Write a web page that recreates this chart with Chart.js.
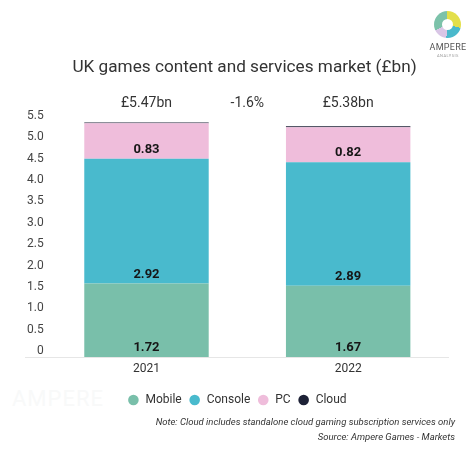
<!DOCTYPE html>
<html>
<head>
<meta charset="utf-8">
<script src="https://cdn.jsdelivr.net/npm/chart.js@4/dist/chart.umd.min.js"></script>
<style>
  html, body { margin:0; padding:0; background:#fff; }
  #wrap { position:relative; width:474px; height:459px; overflow:hidden; font-family: Roboto, "Noto Sans", sans-serif; }
  #c { position:absolute; left:0; top:0; }
  #logo { position:absolute; left:434px; top:11px; width:27px; height:27px; border-radius:50%;
    background: conic-gradient(#e3df4a 0deg 105deg, #4ab9cc 105deg 185deg, #d9c6e6 185deg 245deg, #7cc2aa 245deg 360deg); }
  #logo:after { content:""; position:absolute; left:8px; top:8px; width:11px; height:11px; border-radius:50%; background:#fff; }
  #logoText { position:absolute; left:424px; top:42px; width:48px; text-align:center; font-size:9px; color:#555; letter-spacing:0.3px; }
  #logoSub { position:absolute; left:424px; top:53px; width:48px; text-align:center; font-size:4px; color:#999; letter-spacing:0.5px; }
  #wm { position:absolute; left:12px; top:386px; font-size:22px; color:#f8f9f9; letter-spacing:1px; }
</style>
</head>
<body>
<div id="wrap">
  <div id="wm">AMPERE</div>
  <canvas id="c" width="474" height="459"></canvas>
  <div id="logo"></div>
  <div id="logoText">AMPERE</div>
  <div id="logoSub">ANALYSIS</div>
</div>
<script>
const categories = ['2021', '2022'];
const seriesNames = ['Mobile', 'Console', 'PC', 'Cloud'];
const mobile = [1.72, 1.67];
const consoleVals = [2.92, 2.89];
const pc = [0.83, 0.82];
const cloud = [0.02, 0.02];
const totalLabels = ['£5.47bn', '£5.38bn'];
const changeLabel = '-1.6%';
const yTickValues = [0, 0.5, 1.0, 1.5, 2.0, 2.5, 3.0, 3.5, 4.0, 4.5, 5.0, 5.5];
const titleText = 'UK games content and services market (£bn)';
const noteLines = ['Note: Cloud includes standalone cloud gaming subscription services only',
                   'Source: Ampere Games - Markets'];

const colors = ['#79bfaa', '#49bacd', '#efbddb', '#1d2136'];
const FONT = 'Roboto, "Noto Sans", sans-serif';

const overlay = {
  id: 'overlay',
  afterDraw(chart) {
    const ctx = chart.ctx;
    const area = chart.chartArea;
    const xs = chart.scales.x;
    ctx.save();
    // title
    ctx.fillStyle = '#333';
    ctx.font = '17.2px ' + FONT;
    ctx.textAlign = 'center';
    ctx.textBaseline = 'middle';
    ctx.fillText(titleText, 244.5, 68);
    // totals
    ctx.font = '14px ' + FONT;
    categories.forEach((c, i) => {
      ctx.fillText(totalLabels[i], xs.getPixelForValue(i), area.top - 19);
    });
    ctx.fillText(changeLabel, (xs.getPixelForValue(0) + xs.getPixelForValue(1)) / 2, area.top - 19);
    // value labels
    ctx.font = 'bold 13px ' + FONT;
    ctx.fillStyle = '#161616';
    for (let d = 0; d < 3; d++) {
      const meta = chart.getDatasetMeta(d);
      meta.data.forEach((bar, i) => {
        const v = chart.data.datasets[d].data[i];
        ctx.fillText(v.toFixed(2), bar.x, bar.base - 9);
      });
    }
    // x axis line
    ctx.strokeStyle = '#e6e6e6';
    ctx.lineWidth = 1;
    ctx.beginPath();
    ctx.moveTo(25, area.bottom + 0.5);
    ctx.lineTo(449, area.bottom + 0.5);
    ctx.stroke();
    // notes
    ctx.font = 'italic 9.5px ' + FONT;
    ctx.fillStyle = '#333';
    ctx.textAlign = 'right';
    ctx.fillText(noteLines[0], 455, 423);
    ctx.fillText(noteLines[1], 455, 438);
    ctx.restore();
  }
};

const datasetsVals = [mobile, consoleVals, pc, cloud];
new Chart(document.getElementById('c'), {
  type: 'bar',
  data: {
    labels: categories,
    datasets: seriesNames.map((n, i) => ({
      label: n,
      data: datasetsVals[i],
      backgroundColor: colors[i],
      borderWidth: 0,
      barPercentage: 0.617,
      categoryPercentage: 1.0
    }))
  },
  options: {
    responsive: false,
    animation: false,
    devicePixelRatio: 1,
    layout: { padding: { top: 122, left: 25, right: 25, bottom: 43 } },
    plugins: {
      title: { display: false },
      tooltip: { enabled: false },
      legend: {
        position: 'bottom',
        title: { display: true, text: ' ', padding: 1, font: { size: 4 } },
        labels: {
          usePointStyle: true,
          pointStyle: 'circle',
          boxWidth: 12,
          boxHeight: 7.5,
          padding: 7,
          color: '#333',
          font: { family: FONT, size: 12 }
        }
      }
    },
    scales: {
      x: {
        stacked: true,
        grid: { display: false, drawTicks: false },
        border: { display: false },
        ticks: { color: '#333', padding: 2, font: { family: FONT, size: 12, lineHeight: 1.6 } }
      },
      y: {
        stacked: true,
        min: 0,
        max: 5.5,
        afterBuildTicks: (s) => { s.ticks = yTickValues.map(v => ({ value: v })); },
        grid: { display: false, drawTicks: false },
        border: { display: false },
        ticks: {
          color: '#444',
          padding: 2,
          labelOffset: -6,
          font: { family: FONT, size: 12 },
          callback: (v) => (v === 0 ? '0' : Number(v).toFixed(1))
        }
      }
    }
  },
  plugins: [overlay]
});
</script>
</body>
</html>
